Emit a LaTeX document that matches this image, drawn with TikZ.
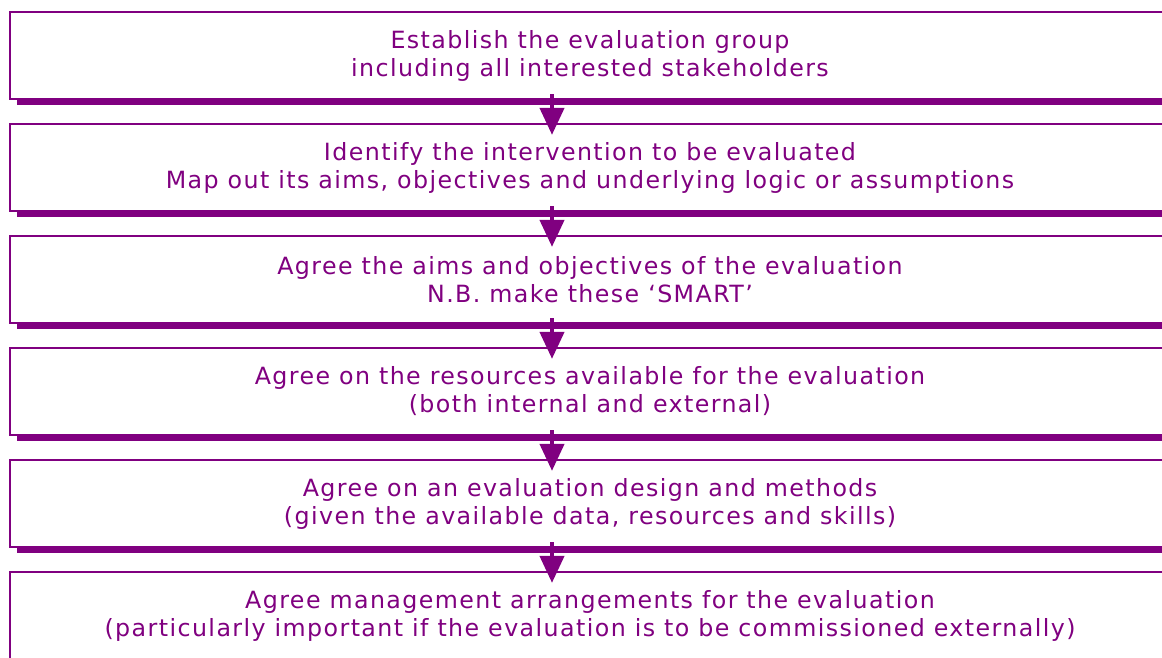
\documentclass[tikz,border=0pt]{standalone}
\usepackage{fontspec}
\setmainfont{DejaVu Sans}[LetterSpace=6]
\usetikzlibrary{arrows.meta,shadows}
\definecolor{plum}{HTML}{800080}
\begin{document}
\begin{tikzpicture}[x=0.02cm,y=0.02cm]
\tikzstyle{stepbox}=[draw=plum, line width=1.3pt, fill=white, minimum width=23.2cm, minimum height=1.74cm,
  align=center, text=plum, font=\fontsize{13.5}{15.9}\selectfont,
  general shadow={fill=plum, shadow xshift=0.14cm, shadow yshift=-0.13cm}]
\tikzstyle{flow}=[plum, line width=2.4pt, -{Triangle[width=0.48cm,length=0.54cm]}]
\useasboundingbox (0,0) rectangle (1162,657);
\node[stepbox] (group) at (590,601.5) {Establish the evaluation group\\including all interested stakeholders};
\node[stepbox] (ident) at (590,489.5) {Identify the intervention to be evaluated\\Map out its aims, objectives and underlying logic or assumptions};
\node[stepbox] (aims) at (590,377.5) {Agree the aims and objectives of the evaluation\\N.B. make these ‘SMART’};
\node[stepbox] (res) at (590,265.5) {Agree on the resources available for the evaluation\\(both internal and external)};
\node[stepbox] (design) at (590,153.5) {Agree on an evaluation design and methods\\(given the available data, resources and skills)};
\node[stepbox] (mgmt) at (590,41.5) {Agree management arrangements for the evaluation\\(particularly important if the evaluation is to be commissioned externally)};
% arrows between the steps
\draw[flow] ([shift={(-38,6)}]group.south) -- ([shift={(-38,-12)}]ident.north);
\draw[flow] ([shift={(-38,6)}]ident.south) -- ([shift={(-38,-12)}]aims.north);
\draw[flow] ([shift={(-38,6)}]aims.south) -- ([shift={(-38,-12)}]res.north);
\draw[flow] ([shift={(-38,6)}]res.south) -- ([shift={(-38,-12)}]design.north);
\draw[flow] ([shift={(-38,6)}]design.south) -- ([shift={(-38,-12)}]mgmt.north);
\end{tikzpicture}
\end{document}
